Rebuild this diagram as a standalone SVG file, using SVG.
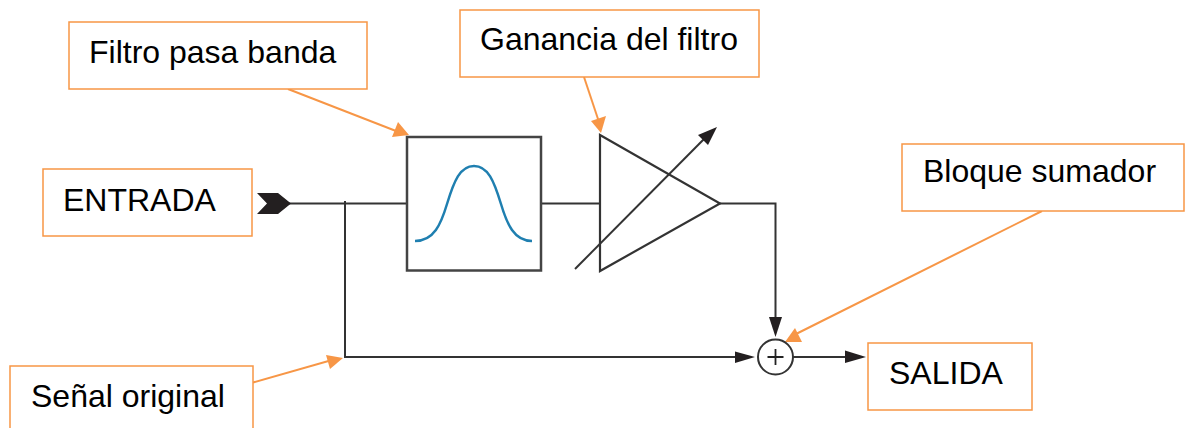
<svg xmlns="http://www.w3.org/2000/svg" width="1185" height="428" viewBox="0 0 1185 428">
<style>
.box{fill:#fff;stroke:#f79646;stroke-width:1.5}
.lbl{font-family:"Liberation Sans",Arial,sans-serif;font-size:32px;fill:#000}
.k{fill:none;stroke:#333;stroke-width:2}
.o{fill:none;stroke:#f79646;stroke-width:2}
.ah{fill:#231f20}
.oh{fill:#f79646}
</style>
<rect width="1185" height="428" fill="#fff"/>
<g id="connectors">
<path class="k" d="M285 203.500H407M345 201V357H740"/>
<path class="k" d="M541 203.500H600"/>
<path class="k" d="M720 203.500H775.500V322"/>
<path class="k" d="M793 357H848"/>
<path class="k" d="M575 269L706 137"/>
<polygon class="ah" points="717,127 708,145 698,135"/>
<polygon class="ah" points="775.500,337 769,317 782,317"/>
<polygon class="ah" points="755,357 735,351.500 735,363"/>
<polygon class="ah" points="866,357 845,350.500 845,363"/>
<polygon class="ah" points="257,193 278,193 291,203.500 278,214 257,214 267,203.500"/>
<path class="o" d="M288 89L396 131"/>
<polygon class="oh" points="409,135 392,137 398,122"/>
<path class="o" d="M584 77L599 122"/>
<polygon class="oh" points="601,133 591,121 606,116"/>
<path class="o" d="M1042 211L792 336"/>
<polygon class="oh" points="785,342 802,342 795,328"/>
<path class="o" d="M253 382.500L332 360"/>
<polygon class="oh" points="343,358 326,355 330,369"/>
</g>
<g id="filtro"><rect x="407" y="137" width="134" height="133.500" fill="#fff" stroke="#444" stroke-width="2.500"/>
<path d="M415 241C434 241 441 224 447 204C454 181 460 166 474 166C488 166 494 181 501 204C507 224 514 241 532 241" fill="none" stroke="#1f7fb0" stroke-width="2.500"/></g>
<g id="ganancia"><polygon points="600,135 720,203.500 600,271" fill="none" stroke="#333" stroke-width="2.200"/></g>
<g id="sumador"><circle cx="775.500" cy="357" r="17.500" fill="#fff" stroke="#333" stroke-width="2"/><path d="M775.500 349V365M767.500 357H783.500" stroke="#222" stroke-width="1.800" fill="none"/></g>
<g id="n-filtro-pasa-banda"><rect class="box" x="69" y="22" width="298" height="67"/><text class="lbl" x="89" y="63">Filtro pasa banda</text></g>
<g id="n-ganancia"><rect class="box" x="460" y="10" width="299" height="67"/><text class="lbl" x="480" y="50">Ganancia del filtro</text></g>
<g id="n-entrada"><rect class="box" x="43" y="169" width="209" height="67"/><text class="lbl" x="63" y="211">ENTRADA</text></g>
<g id="n-bloque"><rect class="box" x="902" y="144" width="282" height="67"/><text class="lbl" x="923" y="182">Bloque sumador</text></g>
<g id="n-salida"><rect class="box" x="868" y="343" width="164" height="67"/><text class="lbl" x="889" y="384">SALIDA</text></g>
<g id="n-senal"><path class="box" d="M10 430V366H253V430"/><text class="lbl" x="31" y="407">Señal original</text></g>
</svg>
